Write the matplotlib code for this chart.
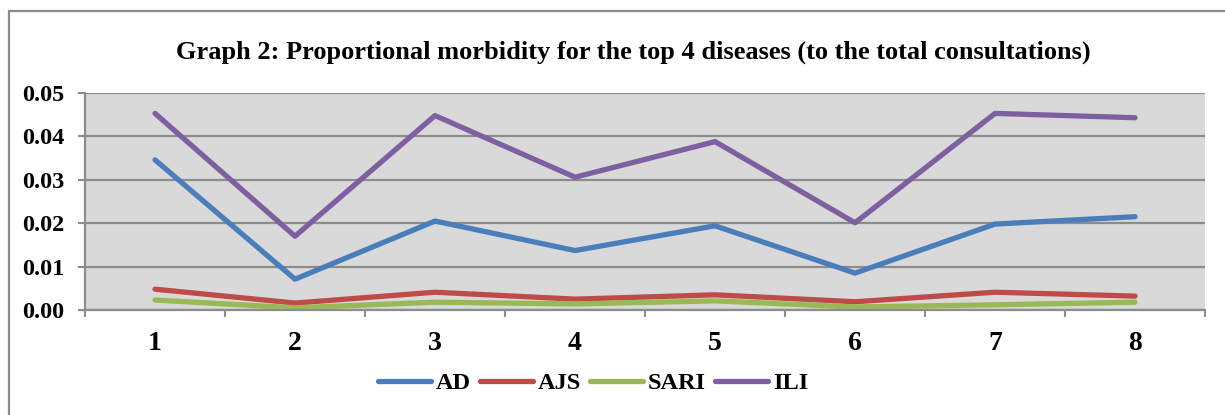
import matplotlib.pyplot as plt
from matplotlib.patches import Rectangle

weeks = ['1', '2', '3', '4', '5', '6', '7', '8']
ad = [0.0346, 0.0071, 0.0205, 0.0137, 0.0194, 0.0085, 0.0198, 0.0215]
ajs = [0.0048, 0.0016, 0.0041, 0.0025, 0.0035, 0.0019, 0.0041, 0.0032]
sari = [0.0023, 0.0005, 0.0018, 0.0014, 0.0021, 0.0007, 0.0012, 0.0018]
ili = [0.0453, 0.0170, 0.0448, 0.0306, 0.0388, 0.0201, 0.0453, 0.0443]

plt.rcParams['font.family'] = ['Liberation Serif', 'DejaVu Serif']
plt.rcParams['font.weight'] = 'bold'

fig = plt.figure(figsize=(12.25, 4.15), dpi=100)
ax = fig.add_axes([0.0694, 0.2530, 0.9143, 0.5229])

# outer chart border (runs off the right/bottom edges)
fig.patches.append(Rectangle((9 / 1225, -0.1), 1.2, 1 - 11 / 415 + 0.1,
                             transform=fig.transFigure, fill=False,
                             edgecolor='#8c8c8c', linewidth=1.6))

x = list(range(len(weeks)))
ax.set_facecolor('#d9d9d9')
ax.plot(x, ad, color='#4a7ebb', lw=3.8, label='AD', solid_capstyle='round')
ax.plot(x, ajs, color='#be4b48', lw=3.8, label='AJS', solid_capstyle='round')
ax.plot(x, sari, color='#98b954', lw=3.8, label='SARI', solid_capstyle='round')
ax.plot(x, ili, color='#7d60a0', lw=3.8, label='ILI', solid_capstyle='round')

ax.set_xlim(-0.5, 7.5)
ax.set_ylim(0, 0.05)
ax.set_yticks([0, 0.01, 0.02, 0.03, 0.04, 0.05])
ax.set_yticklabels(['0.00', '0.01', '0.02', '0.03', '0.04', '0.05'], fontsize=17.5, fontweight='bold')
ax.set_xticks(x)
ax.set_xticklabels(weeks, fontsize=20, fontweight='bold')
ax.set_xticks([i - 0.5 for i in range(9)], minor=True)
ax.tick_params(axis='x', which='major', length=0, pad=15)
ax.tick_params(axis='x', which='minor', length=5, width=1.5, color='#8c8c8c', direction='out')
ax.tick_params(axis='y', length=5, width=1.5, color='#8c8c8c', pad=10)
ax.grid(axis='y', color='#8c8c8c', lw=1.6)
ax.set_axisbelow(True)
for s in ['top', 'right']:
    ax.spines[s].set_visible(False)
for s in ['left', 'bottom']:
    ax.spines[s].set_color('#8c8c8c')
    ax.spines[s].set_linewidth(1.6)

fig.text(633 / 1225, 0.875, 'Graph 2: Proportional morbidity for the top 4 diseases (to the total consultations)',
         ha='center', va='center', fontsize=19, fontweight='bold')

fig.legend(loc='center', bbox_to_anchor=(593 / 1225, 0.077), ncol=4, frameon=False,
           prop={'size': 17.5, 'weight': 'bold'}, handlelength=2.2, handletextpad=0.2,
           columnspacing=0.35)

fig.savefig('out.png', dpi=100)
